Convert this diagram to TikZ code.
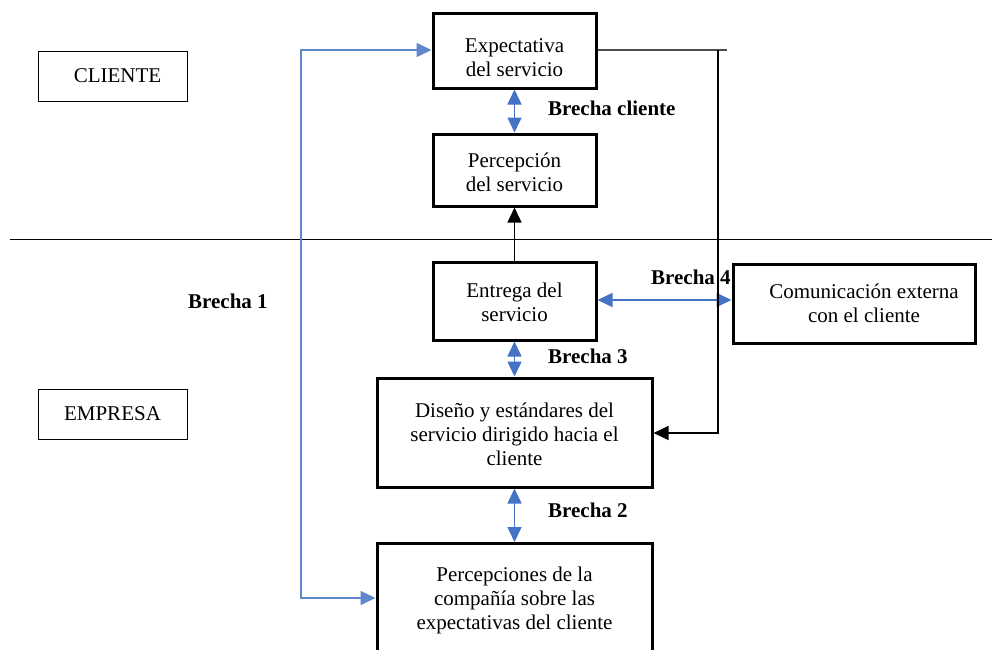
\documentclass[tikz,border=0pt]{standalone}
\usepackage{fontspec}
\setmainfont{Liberation Serif}
\usetikzlibrary{arrows.meta}
\definecolor{brblue}{HTML}{4472C4}
\begin{document}
\begin{tikzpicture}[x=1pt,y=-1pt,
  thickbox/.style={draw=black,line width=3pt,align=center,inner sep=0pt},
  thinbox/.style={draw=black,line width=1pt,align=center,inner sep=0pt},
  lbl/.style={font=\bfseries\fontsize{21}{24}\selectfont,anchor=west,inner sep=0pt},
  btip/.style={{Triangle[length=15pt,width=14pt]}-{Triangle[length=15pt,width=14pt]}},
  bline/.style={draw=brblue,line width=1.5pt},
  kline/.style={draw=black,line width=1.2pt}]
\useasboundingbox (0,0) rectangle (992,649);
\fontsize{21}{24}\selectfont
% boxes
\node[thinbox,minimum width=149pt,minimum height=50pt] (cli) at (112.5,76) {\hspace*{10pt}CLIENTE};
\node[thinbox,minimum width=149pt,minimum height=50pt] (emp) at (112.5,414) {EMPRESA};
\node[thickbox,minimum width=163pt,minimum height=75pt] (exp) at (514.5,50.5) {\rule{0pt}{28pt}Expectativa\\del servicio};
\node[thickbox,minimum width=163pt,minimum height=72pt] (per) at (514.5,170) {\rule{0pt}{20pt}Percepción\\del servicio};
\node[thickbox,minimum width=163pt,minimum height=78pt] (ent) at (514.5,301) {\rule{0pt}{18pt}Entrega del\\servicio};
\node[thickbox,minimum width=242pt,minimum height=79pt] (com) at (854,303.5) {\hspace*{20pt}Comunicación externa\\\hspace*{20pt}con el cliente};
\node[thickbox,minimum width=275pt,minimum height=109pt] (dis) at (514.5,432.5) {\rule{0pt}{18pt}Diseño y estándares del\\servicio dirigido hacia el\\cliente};
\node[thickbox,minimum width=275pt,minimum height=114pt,anchor=north] (pcs) at (514.5,542) {Percepciones de la\\compañía sobre las\\expectativas del cliente};
% separator
\coordinate (sepL) at (10,239);
\coordinate (sepR) at (992,239);
\draw[black,line width=1pt] (sepL) -- (sepR);
% labels
\node[lbl] (bc) at (548,108) {Brecha cliente};
\node[lbl] (b4) at (651,277) {Brecha 4};
\node[lbl] (b1) at (188,301) {Brecha 1};
\node[lbl] (b3) at (548,356) {Brecha 3};
\node[lbl] (b2) at (548,510) {Brecha 2};
% blue long connector Brecha 1
\coordinate (c1a) at (301,598);
\coordinate (c1b) at (301,50);
\draw[bline,btip,brblue!85!white] (pcs.west |- 0,598) -- (c1a) -- (c1b) -- (exp.west |- 0,50);
% vertical double arrows
\draw[bline,btip,fill=brblue] (exp.south) -- (per.north);
\draw[bline,btip,fill=brblue] (ent.south) -- (dis.north);
\draw[bline,btip,fill=brblue] (dis.south) -- (pcs.north);
\draw[bline,btip,fill=brblue] (ent.east |- 0,300) -- (com.west |- 0,300);
% black arrow entrega -> percepcion
\draw[kline,-{Triangle[length=15pt,width=14pt]}] (ent.north) -- (per.south);
% communication line
\coordinate (t1) at (727,50);
\coordinate (t2) at (718,50);
\coordinate (t3) at (718,433);
\draw[draw=black!70,line width=1.5pt] (exp.east |- 0,50) -- (t1);
\draw[kline,-{Triangle[length=15pt,width=14pt]}] (t2) -- (t3) -- (dis.east |- 0,433);
\end{tikzpicture}
\end{document}
